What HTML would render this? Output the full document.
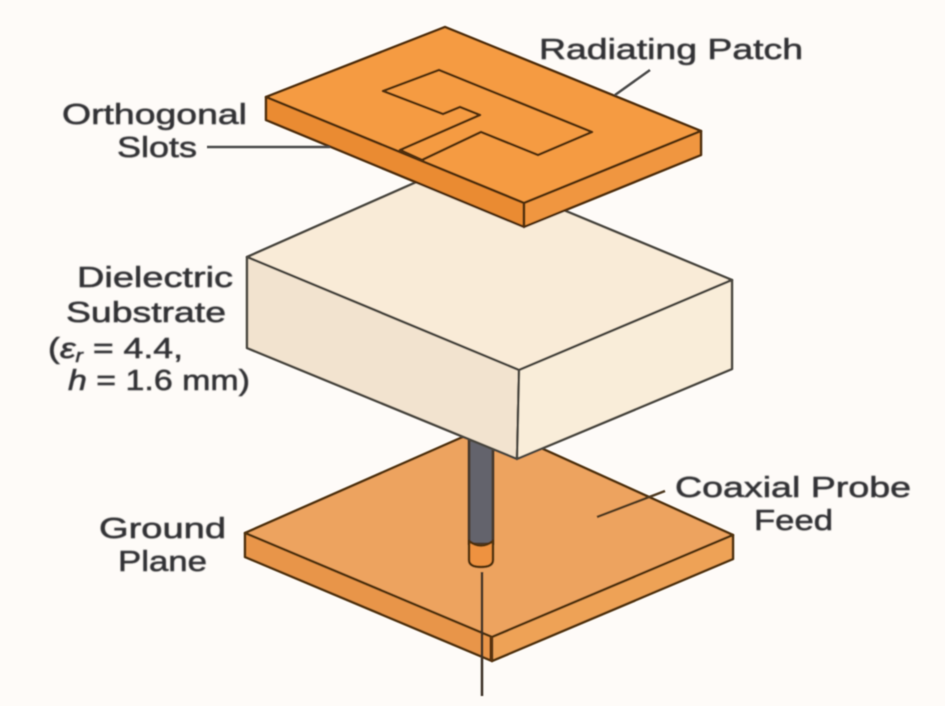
<!DOCTYPE html>
<html>
<head>
<meta charset="utf-8">
<style>
html,body{margin:0;padding:0;background:#fefbf8;}
svg{display:block;}
text{font-family:"Liberation Sans",sans-serif;font-size:29px;fill:#333336;stroke:#333336;stroke-width:.55px;}
</style>
</head>
<body>
<svg width="945" height="706" viewBox="0 0 945 706" xmlns="http://www.w3.org/2000/svg">
<defs>
<filter id="b" x="-5%" y="-5%" width="110%" height="110%"><feGaussianBlur stdDeviation="0.6"/></filter>
<filter id="t" x="-5%" y="-20%" width="110%" height="140%"><feGaussianBlur stdDeviation="0.7"/></filter>
</defs>
<rect width="945" height="706" fill="#fefbf8"/>
<g filter="url(#b)" stroke-linejoin="round">
<!-- ground plane -->
<g stroke="#4f300f" stroke-width="2.5">
<polygon points="245,533 490,425 733,535 492,637" fill="#eda35f"/>
<polygon points="245,533 492,637 492,661 245,557" fill="#e8954a"/>
<polygon points="492,637 733,535 733,559 492,661" fill="#eea257"/>
</g>
<line x1="491" y1="637" x2="491" y2="661" stroke="#5a3010" stroke-width="3"/>
<line x1="597" y1="517" x2="665" y2="491" stroke="#4f3a22" stroke-width="2.5"/>
<!-- probe -->
<rect x="469" y="440" width="24" height="104" fill="#64646c" stroke="#4a3b2e" stroke-width="3"/>
<path d="M469,541 Q481,550 493,541 V560 Q493,567 481,567 Q469,567 469,560 Z" fill="#ee9240" stroke="#4f300f" stroke-width="2.5"/>
<line x1="482" y1="572" x2="482" y2="696" stroke="#3c3128" stroke-width="2.5"/>
<!-- substrate -->
<g stroke="#4a463f" stroke-width="2.5">
<polygon points="247,257 455,165 732,280 519,370" fill="#f9ebd7"/>
<polygon points="247,257 519,370 517,459 247,348" fill="#f2e3cf"/>
<polygon points="519,370 732,280 732,369 517,459" fill="#f9edd9"/>
</g>
<!-- patch -->
<g stroke="#4f2e0b" stroke-width="2.5">
<polygon points="445,27 701,131 524,203 266,97" fill="#f59b42"/>
<polygon points="266,97 524,203 524,227 266,120" fill="#ea8b33"/>
<polygon points="524,203 701,131 701,155 524,227" fill="#f0963f"/>
<polyline fill="none" points="439,70 383,91 443,114 460,107 480,115 400,150 422,160 481,132 538,155 592,132 439,70 383,91"/>
</g>
<!-- leaders -->
<line x1="615" y1="95" x2="650" y2="70" stroke="#4a4a4a" stroke-width="2.5"/>
<line x1="207" y1="147" x2="330" y2="147" stroke="#4a4a4a" stroke-width="2.5"/>
</g>
<g filter="url(#t)">
<text x="539" y="59" textLength="264" lengthAdjust="spacingAndGlyphs">Radiating Patch</text>
<text x="62" y="124" textLength="185" lengthAdjust="spacingAndGlyphs">Orthogonal</text>
<text x="117" y="157" textLength="80" lengthAdjust="spacingAndGlyphs">Slots</text>
<text x="77" y="287" textLength="156" lengthAdjust="spacingAndGlyphs">Dielectric</text>
<text x="66" y="322" textLength="160" lengthAdjust="spacingAndGlyphs">Substrate</text>
<text x="48" y="358" textLength="135" lengthAdjust="spacingAndGlyphs">(<tspan font-style="italic">ε<tspan font-size="18" dy="4">r</tspan></tspan><tspan dy="-4"> = 4.4,</tspan></text>
<text x="68" y="390" textLength="182" lengthAdjust="spacingAndGlyphs"><tspan font-style="italic">h</tspan> = 1.6 mm)</text>
<text x="675" y="497" textLength="236" lengthAdjust="spacingAndGlyphs">Coaxial Probe</text>
<text x="754" y="530" textLength="79" lengthAdjust="spacingAndGlyphs">Feed</text>
<text x="99" y="538" textLength="127" lengthAdjust="spacingAndGlyphs">Ground</text>
<text x="118" y="571" textLength="89" lengthAdjust="spacingAndGlyphs">Plane</text>
</g>
</svg>
</body>
</html>
